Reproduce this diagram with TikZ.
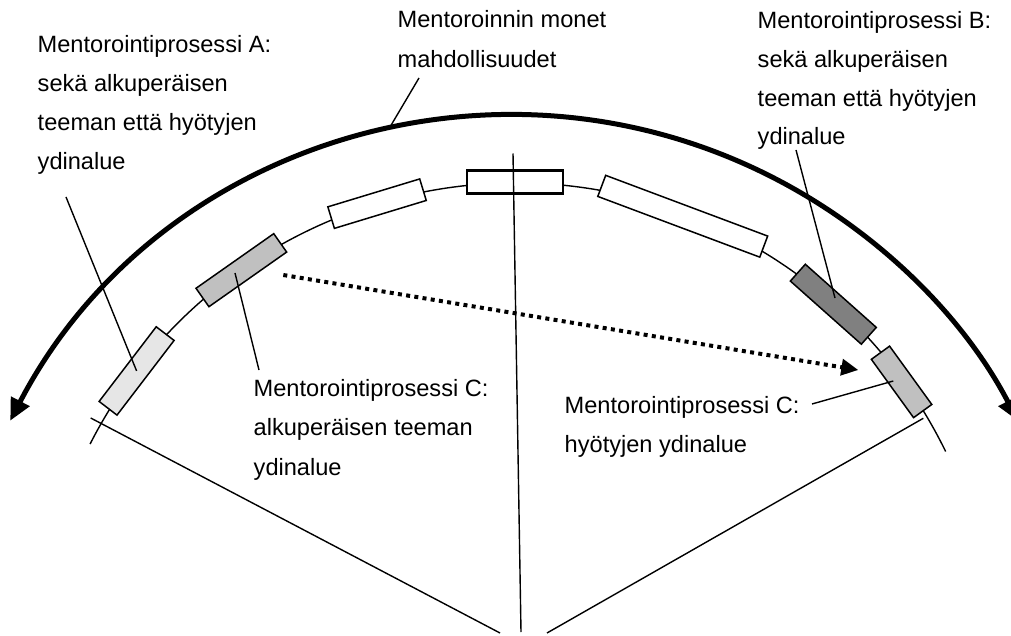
\documentclass[tikz,border=0pt]{standalone}
\usepackage{fontspec}
\setmainfont{Liberation Sans}
\usetikzlibrary{arrows.meta,calc}
\definecolor{lightfill}{HTML}{E6E6E6}
\definecolor{midfill}{HTML}{C0C0C0}
\definecolor{darkfill}{HTML}{808080}

\begin{document}
\begin{tikzpicture}[x=1pt,y=1pt,
  lbl/.style={anchor=base west, inner sep=0pt, font=\fontsize{23.6}{39}\selectfont},
  seg/.style={draw=black, line width=1.5pt, minimum height=22.5pt, inner sep=0pt},
  thinline/.style={line width=1.4pt},
  bigarrow/.style={line width=5pt,
    {Triangle[length=22pt,width=20pt]}-{Triangle[length=22pt,width=20pt]}},
  dotarrow/.style={line width=4pt, dash pattern=on 4pt off 4.3pt,
    -{Triangle[length=17pt,width=16pt]}}]
\useasboundingbox (0,0) rectangle (1011,635);

% centres of the two circles
\coordinate (C) at (516,-26);
\coordinate (O) at (514,-48);

% outer thick arc with arrow heads at both ends
\draw[bigarrow] ($(O)+(152.5:568)$) arc[start angle=152.5, end angle=27.5, radius=568];

% inner thin arc carrying the segments
\draw[thinline] ($(C)+(153:478)$) arc[start angle=153, end angle=26, radius=478];

% segments along the inner arc
\node[seg, fill=lightfill, minimum width=94pt, rotate=52.6]  (b1) at ($(C)+(142.6:477.6)$) {};
\node[seg, fill=midfill,   minimum width=95pt, rotate=35.1]  (b2) at ($(C)+(125.1:477.7)$) {};
\node[seg, fill=white,     minimum width=96pt, rotate=16.9]  (b3) at ($(C)+(106.9:478)$) {};
\node[seg, fill=white,     minimum width=96pt, line width=2.6pt, rotate=0] (b4) at ($(C)+(90.1:479)$) {};
\node[seg, fill=white,     minimum width=173pt, rotate=-20.55] (b5) at ($(C)+(69.45:475)$) {};
\node[seg, fill=darkfill,  minimum width=95pt, rotate=-41.65] (b6) at ($(C)+(48.35:477.5)$) {};
\node[seg, fill=midfill,   minimum width=72pt, rotate=-54.1]  (b7) at ($(C)+(35.9:476)$) {};

% radial lines towards the common centre
\coordinate (rl0) at (90.7,217);  \coordinate (rl1) at (500,2);
\coordinate (rv0) at (513,481.5); \coordinate (rv1) at (521,3);
\coordinate (rr0) at (923.3,216.7); \coordinate (rr1) at (547,2);
\draw[thinline] (rl0) -- (rl1);
\draw[thinline] (rv0) -- (rv1);
\draw[thinline] (rr0) -- (rr1);

% dotted transfer arrow
\coordinate (d0) at (283.3,360);
\coordinate (d1) at (858.3,265);
\draw[dotarrow] (d0) -- (d1);

% labels
\node[lbl] (a1) at (37.5,582.3) {Mentorointiprosessi A:};
\node[lbl] (a2) at (37.5,543.3) {sekä alkuperäisen};
\node[lbl] (a3) at (37.5,504.3) {teeman että hyötyjen};
\node[lbl] (a4) at (37.5,465.3) {ydinalue};

\node[lbl] (m1) at (397.5,607.3) {Mentoroinnin monet};
\node[lbl] (m2) at (397.5,567.5) {mahdollisuudet};

\node[lbl] (bb1) at (757.5,606) {Mentorointiprosessi B:};
\node[lbl] (bb2) at (757.5,567) {sekä alkuperäisen};
\node[lbl] (bb3) at (757.5,528.5) {teeman että hyötyjen};
\node[lbl] (bb4) at (757.5,490) {ydinalue};

\node[lbl] (c1) at (253.5,239) {Mentorointiprosessi C:};
\node[lbl] (c2) at (253.5,199.3) {alkuperäisen teeman};
\node[lbl] (c3) at (253.5,159.6) {ydinalue};

\node[lbl] (r1) at (564.5,222) {Mentorointiprosessi C:};
\node[lbl] (r2) at (564.5,183) {hyötyjen ydinalue};

% pointer lines from labels
\coordinate (pa) at (66,438);
\draw[thinline] (pa) -- (b1.center);
\coordinate (pm0) at (419,557); \coordinate (pm1) at (390,508);
\draw[thinline] (pm0) -- (pm1);
\coordinate (pb0) at (796,485); \coordinate (pb1) at (835,337);
\draw[thinline] (pb0) -- (pb1);
\coordinate (pc0) at (259,265); \coordinate (pc1) at (235,362);
\draw[thinline] (pc0) -- (pc1);
\coordinate (pr0) at (812,231); \coordinate (pr1) at (893.3,254);
\draw[thinline] (pr0) -- (pr1);
\end{tikzpicture}
\end{document}
